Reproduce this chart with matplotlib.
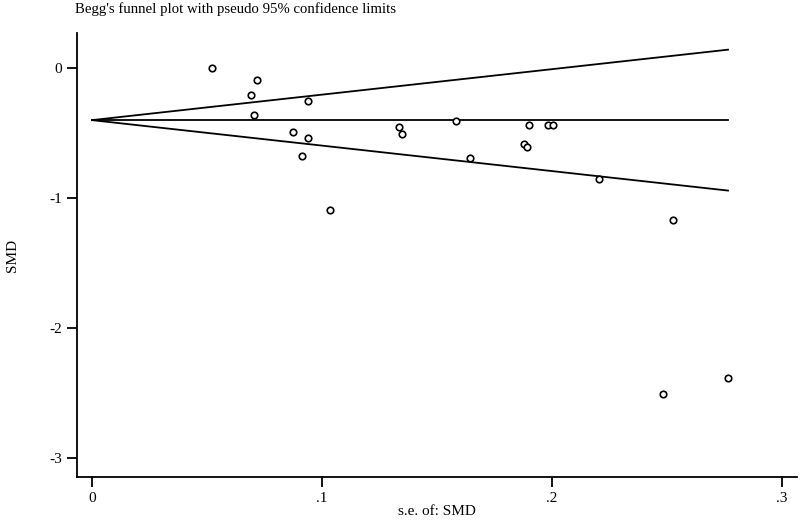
import numpy as np
import matplotlib
matplotlib.use("Agg")
import matplotlib.pyplot as plt

plt.rcParams['font.family'] = ['Liberation Serif', 'DejaVu Serif']

# Study data: standard error of SMD and SMD
se = [0.0523, 0.0719, 0.0693, 0.0703, 0.0939, 0.0873, 0.0939, 0.0914, 0.1033,
      0.1333, 0.1347, 0.1584, 0.1643, 0.1899, 0.1880, 0.1891, 0.1984, 0.2003,
      0.2204, 0.2526, 0.2484, 0.2765]
smd = [0.00, -0.09, -0.205, -0.36, -0.25, -0.49, -0.54, -0.675, -1.095,
       -0.45, -0.51, -0.405, -0.688, -0.436, -0.581, -0.603, -0.436, -0.436,
       -0.854, -1.17, -2.508, -2.385]
pooled = -0.40

xticks = [0, 0.1, 0.2, 0.3]
xticklabels = ["0", ".1", ".2", ".3"]
yticks = [-3, -2, -1, 0]
yticklabels = ["-3", "-2", "-1", "0"]

fig = plt.figure(figsize=(8, 5.2), dpi=100)
ax = fig.add_axes([0.09625, 0.0827, 0.9, 0.8538])

smax = max(se)
s_line = np.array([0.0, smax])
ax.plot(s_line, [pooled, pooled], color='black', lw=1.3)
ax.plot(s_line, pooled + 1.96 * s_line, color='black', lw=1.3)
ax.plot(s_line, pooled - 1.96 * s_line, color='black', lw=1.3)

ax.scatter(se, smd, s=22, facecolors='white', edgecolors='black', linewidths=1.2, zorder=3)

ax.set_xlim(-0.0065, 0.3065)
ax.set_ylim(-3.145, 0.27)
ax.set_xticks(xticks)
ax.set_xticklabels(xticklabels)
ax.set_yticks(yticks)
ax.set_yticklabels(yticklabels)
ax.spines['top'].set_visible(False)
ax.spines['right'].set_visible(False)
ax.spines['left'].set_linewidth(1.3)
ax.spines['bottom'].set_linewidth(1.3)
ax.tick_params(direction='out', length=7.5, width=1.3, labelsize=11, pad=3)

ax.set_xlabel("s.e. of: SMD", fontsize=11, labelpad=0)
ax.set_ylabel("SMD", fontsize=11, labelpad=22)

fig.text(0.094, 0.982, "Begg's funnel plot with pseudo 95% confidence limits",
         fontsize=10.6, ha='left', va='center')

fig.savefig("out.png", dpi=100)
